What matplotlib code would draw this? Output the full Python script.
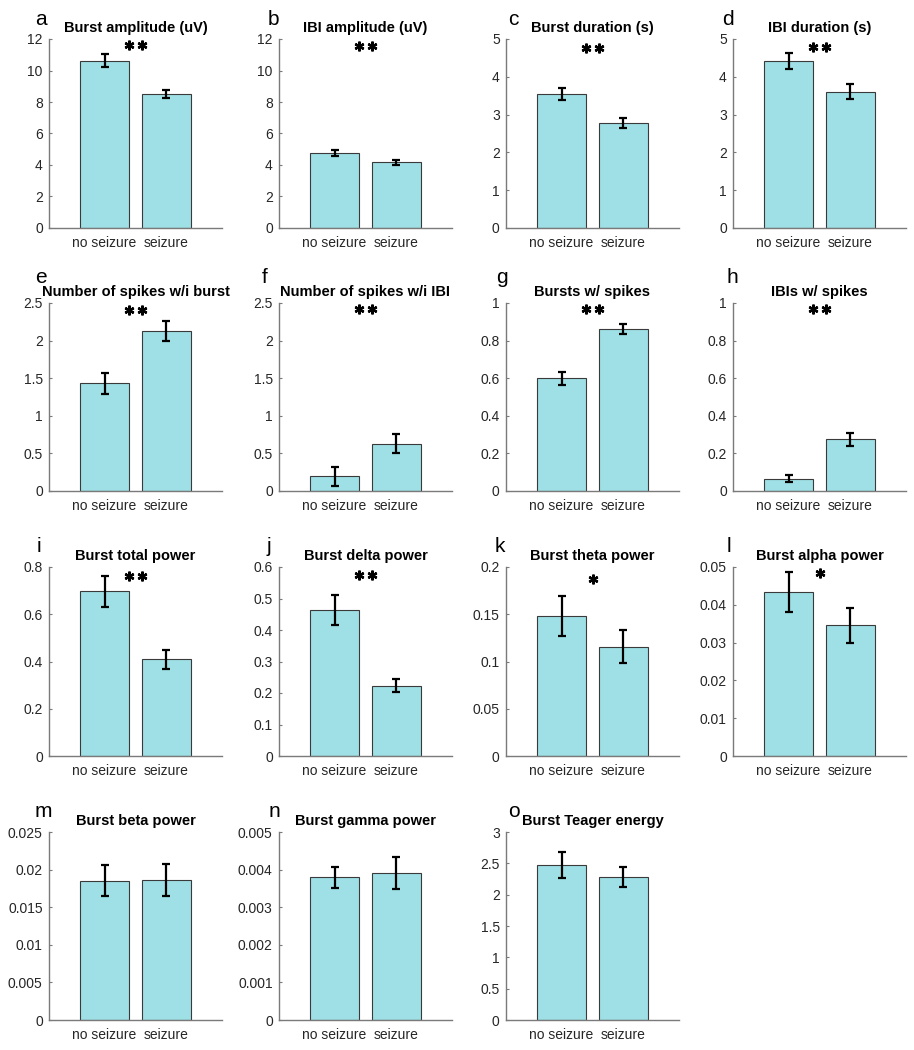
import matplotlib
matplotlib.use("Agg")
import matplotlib.pyplot as plt
import numpy as np

plt.rcParams['font.family'] = ['Liberation Sans', 'DejaVu Sans']

categories = ["no seizure", "seizure"]
letters = list("abcdefghijklmno")
titles = ["Burst amplitude (uV)", "IBI amplitude (uV)", "Burst duration (s)", "IBI duration (s)",
          "Number of spikes w/i burst", "Number of spikes w/i IBI", "Bursts w/ spikes", "IBIs w/ spikes",
          "Burst total power", "Burst delta power", "Burst theta power", "Burst alpha power",
          "Burst beta power", "Burst gamma power", "Burst Teager energy"]
means_no_seizure = [10.62, 4.77, 3.55, 4.42, 1.43, 0.195, 0.60, 0.064, 0.698, 0.464, 0.1485, 0.0434,
                    0.01855, 0.00380, 2.47]
means_seizure = [8.49, 4.16, 2.78, 3.60, 2.13, 0.628, 0.862, 0.276, 0.409, 0.223, 0.1155, 0.0346,
                 0.01865, 0.00391, 2.28]
sem_no_seizure = [0.41, 0.21, 0.155, 0.21, 0.135, 0.128, 0.035, 0.0185, 0.066, 0.047, 0.021, 0.0053,
                  0.0020, 0.00028, 0.205]
sem_seizure = [0.265, 0.16, 0.125, 0.20, 0.13, 0.128, 0.027, 0.034, 0.04, 0.021, 0.0175, 0.0046,
               0.0021, 0.00043, 0.165]
ymax = [12, 12, 5, 5, 2.5, 2.5, 1, 1, 0.8, 0.6, 0.2, 0.05, 0.025, 0.005, 3]
ytick_step = [2, 2, 1, 1, 0.5, 0.5, 0.2, 0.2, 0.2, 0.1, 0.05, 0.01, 0.005, 0.001, 0.5]
ytick_labels = [
    ["0", "2", "4", "6", "8", "10", "12"],
    ["0", "2", "4", "6", "8", "10", "12"],
    ["0", "1", "2", "3", "4", "5"],
    ["0", "1", "2", "3", "4", "5"],
    ["0", "0.5", "1", "1.5", "2", "2.5"],
    ["0", "0.5", "1", "1.5", "2", "2.5"],
    ["0", "0.2", "0.4", "0.6", "0.8", "1"],
    ["0", "0.2", "0.4", "0.6", "0.8", "1"],
    ["0", "0.2", "0.4", "0.6", "0.8"],
    ["0", "0.1", "0.2", "0.3", "0.4", "0.5", "0.6"],
    ["0", "0.05", "0.1", "0.15", "0.2"],
    ["0", "0.01", "0.02", "0.03", "0.04", "0.05"],
    ["0", "0.005", "0.01", "0.015", "0.02", "0.025"],
    ["0", "0.001", "0.002", "0.003", "0.004", "0.005"],
    ["0", "0.5", "1", "1.5", "2", "2.5", "3"],
]
significance = ["**", "**", "**", "**", "**", "**", "**", "**", "**", "**", "*", "*", "", "", ""]

# layout (pixels)
W, H = 914, 1050
col_left = [49, 279, 506, 733]
row_top = [39, 303, 567, 832]
row_bottom = [228, 491, 756, 1020]
ax_w = 173
star_offset_px = [6, 7, 9, 8, 7, 6, 6, 6, 9, 8, 12, 6, 0, 0, 0]
letter_pos = [(35, 25), (268, 25), (508, 25), (722, 25),
              (35, 283), (262, 283), (496, 283), (727, 283),
              (37, 552), (267, 552), (495, 552), (727, 552),
              (35, 817), (269, 817), (508, 817)]

bar_color = "#9ee0e5"
edge_color = "#3a3a3a"
spine_color = "#7a7a7a"
text_color = "#262626"

fig = plt.figure(figsize=(W / 100, H / 100), dpi=100)
fig.patch.set_facecolor("white")

x = np.array([1, 2])
for i in range(15):
    r, c = divmod(i, 4)
    left = col_left[c] / W
    bottom = 1 - row_bottom[r] / H
    height = (row_bottom[r] - row_top[r]) / H
    ax = fig.add_axes([left, bottom, ax_w / W, height])
    m = [means_no_seizure[i], means_seizure[i]]
    e = [sem_no_seizure[i], sem_seizure[i]]
    ax.bar(x, m, width=0.8, color=bar_color, edgecolor=edge_color, linewidth=0.8, zorder=2)
    ax.errorbar(x, m, yerr=e, fmt="none", ecolor="black", elinewidth=1.6, capsize=3,
                capthick=1.6, zorder=3)
    ax.set_xlim(0.1, 2.9)
    ax.set_ylim(0, ymax[i])
    ticks = np.arange(len(ytick_labels[i])) * ytick_step[i]
    ax.set_yticks(ticks)
    ax.set_yticklabels(ytick_labels[i])
    ax.set_xticks(x)
    ax.set_xticklabels(categories)
    for s in ["top", "right"]:
        ax.spines[s].set_visible(False)
    for s in ["left", "bottom"]:
        ax.spines[s].set_color(spine_color)
        ax.spines[s].set_linewidth(1.0)
    ax.tick_params(axis="both", direction="in", length=2.5, width=0.8, color=spine_color,
                   labelsize=10, labelcolor=text_color)
    ax.tick_params(axis="y", pad=4.5)
    ax.tick_params(axis="x", pad=5.5)
    ax.set_title(titles[i], fontsize=10.5, fontweight="bold", color="black", pad=5)
    # significance stars
    if significance[i]:
        ypix = row_top[r] + star_offset_px[i]
        ydata = ymax[i] * (row_bottom[r] - ypix) / (row_bottom[r] - row_top[r])
        n = len(significance[i])
        xs = [1.5] if n == 1 else [1.4, 1.6]
        ax.plot(xs, [ydata] * n, linestyle="none", marker=(6, 2, 0), markersize=7,
                markeredgewidth=1.7, color="black", clip_on=False, zorder=4)
    lx, ly = letter_pos[i]
    fig.text(lx / W, 1 - ly / H, letters[i], fontsize=15, ha="left", va="baseline", color="black")

fig.savefig("out.png", dpi=100, facecolor="white")
